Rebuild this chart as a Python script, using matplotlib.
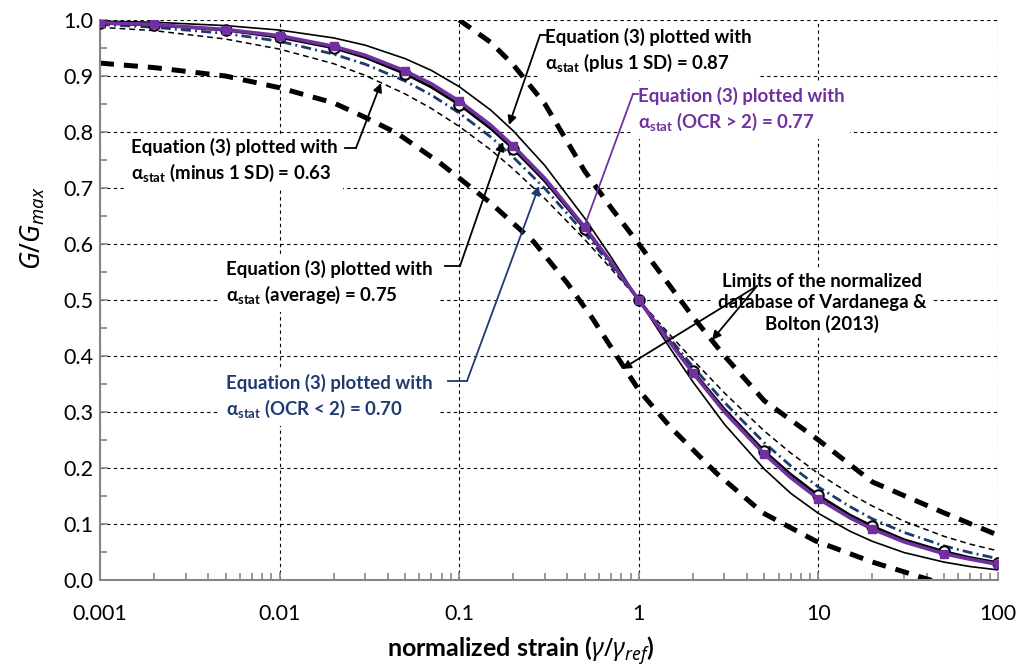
import matplotlib
matplotlib.use("Agg")
import matplotlib.pyplot as plt
from matplotlib.ticker import LogLocator, MultipleLocator, FixedLocator, FixedFormatter

plt.rcParams['font.family'] = ['Lato', 'Noto Sans', 'DejaVu Sans']
plt.rcParams['mathtext.fontset'] = 'custom'
plt.rcParams['mathtext.it'] = 'Noto Sans:italic:bold'
plt.rcParams['mathtext.rm'] = 'Noto Sans:bold'

# normalized strain values where the curves were read
strain = [0.001, 0.002, 0.005, 0.01, 0.02, 0.03, 0.05, 0.07, 0.1, 0.15, 0.2,
          0.3, 0.5, 0.7, 1, 1.5, 2, 3, 5, 7, 10, 15, 20, 30, 50, 70, 100]
# strains carrying a marker (0.001, 0.002, 0.005 ... 100)
marker_idx = [0, 1, 2, 3, 4, 6, 8, 10, 12, 14, 16, 18, 20, 22, 24, 26]

# G/Gmax at those strains
g_average = [.994, .991, .982, .969, .950, .933, .904, .880, .849, .806, .770,
             .712, .627, .567, .500, .425, .373, .305, .230, .189, .151, .116,
             .096, .072, .051, .040, .031]                          # alpha 0.75
g_ocr_hi = [.995, .992, .983, .972, .953, .937, .909, .886, .855, .812, .775,
            .717, .630, .568, .500, .423, .370, .300, .225, .183, .145, .111,
            .091, .068, .047, .037, .028]                           # alpha 0.77
g_ocr_lo = [.992, .987, .976, .962, .939, .921, .891, .866, .834, .791, .755,
            .699, .619, .562, .500, .430, .381, .317, .245, .204, .166, .131,
            .109, .085, .061, .049, .038]                           # alpha 0.70
g_plus_sd = [.998, .996, .990, .982, .968, .955, .931, .910, .881, .839, .802,
             .740, .646, .577, .500, .413, .354, .278, .198, .155, .119, .087,
             .069, .049, .032, .024, .018]                          # alpha 0.87
g_minus_sd = [.987, .981, .966, .948, .922, .901, .868, .842, .810, .768, .734,
              .681, .608, .556, .500, .437, .393, .334, .266, .227, .190, .154,
              .132, .105, .078, .064, .052]                         # alpha 0.63

# database limits (Vardanega & Bolton 2013)
upper_x = [0.1, 0.15, 0.2, 0.3, 0.5, 0.7, 1, 2, 3, 5, 10, 20, 50, 100]
upper_y = [1.0, 0.96, 0.92, 0.85, 0.73, 0.665, 0.60, 0.47, 0.40, 0.32,
           0.25, 0.175, 0.12, 0.08]
lower_x = [0.001, 0.002, 0.005, 0.01, 0.02, 0.03, 0.045, 0.078, 0.15, 0.26,
           0.4, 0.55, 1.0, 1.5, 2.7, 4.9, 9.6, 20, 42, 50]
lower_y = [0.923, 0.915, 0.900, 0.879, 0.852, 0.826, 0.798, 0.745, 0.673,
           0.604, 0.530, 0.468, 0.339, 0.273, 0.191, 0.120, 0.070, 0.032,
           0.0, -0.01]

x_ticks = [0.001, 0.01, 0.1, 1, 10, 100]
x_labels = ["0.001", "0.01", "0.1", "1", "10", "100"]

W, H = 1019, 668
fig = plt.figure(figsize=(W / 100, H / 100), dpi=100)
ax = fig.add_axes([100 / W, (H - 580) / H, 898 / W, 560 / H])


def px(xp, yp):
    # pixel position in the figure -> data coordinates
    return 10 ** ((xp - 100) / 179.6 - 3), (580 - yp) / 560


ax.set_xscale('log')
ax.set_xlim(0.001, 100)
ax.set_ylim(0, 1.0)

ax.plot(upper_x, upper_y, color='black', lw=3.6, ls=(0, (2.8, 2.0)), zorder=2)
ax.plot(lower_x, lower_y, color='black', lw=3.6, ls=(0, (2.8, 2.0)), zorder=2)
ax.plot(strain, g_minus_sd, color='black', lw=1.1, ls=(0, (3.8, 2.6)), zorder=2)
ax.plot(strain, g_plus_sd, color='black', lw=1.2, zorder=2)
ax.plot(strain, g_ocr_lo, color='#1f3a6e', lw=2.0,
        ls=(0, (3.6, 1.5, 0.7, 1.5)), zorder=3)
ax.plot(strain, g_average, color='black', lw=2.0, marker='o', ms=7.5,
        mfc='white', mec='black', mew=1.5, markevery=marker_idx, zorder=4)
ax.plot(strain, g_ocr_hi, color='#7030a0', lw=2.6, marker='s', ms=6,
        mfc='#7030a0', mec='#7030a0', markevery=marker_idx, zorder=5)

# grid and axes
ax.grid(True, which='major', color='black', lw=0.8, ls=(0, (3, 3)))
ax.set_axisbelow(True)
for s in ['top', 'right']:
    ax.spines[s].set_visible(False)
for s in ['left', 'bottom']:
    ax.spines[s].set_color('#868686')
    ax.spines[s].set_linewidth(1.5)

ax.xaxis.set_major_locator(FixedLocator(x_ticks))
ax.xaxis.set_major_formatter(FixedFormatter(x_labels))
ax.xaxis.set_minor_locator(LogLocator(base=10, subs=range(2, 10), numticks=20))
ax.xaxis.set_minor_formatter(FixedFormatter([]))
ax.yaxis.set_major_locator(MultipleLocator(0.1))
ax.yaxis.set_minor_locator(MultipleLocator(0.05))
ax.yaxis.set_major_formatter(plt.FuncFormatter(lambda v, p: f"{v:.1f}"))
ax.tick_params(which='both', direction='in', color='#868686', width=1.2)
ax.tick_params(which='major', length=6)
ax.tick_params(which='minor', length=5)
ax.tick_params(axis='x', which='major', pad=17, labelsize=15.5)
ax.tick_params(axis='y', which='major', pad=5, labelsize=15.5)

fig.text(33 / W, 1 - 228 / H, r"$G/G_{max}$", rotation=90, fontsize=19,
         ha='center', va='center')
fig.text(521 / W, 1 - 650 / H, r"normalized strain ($\gamma/\gamma_{ref}$)",
         fontsize=18, fontweight='bold', ha='center', va='center')

box = dict(facecolor='white', edgecolor='none', pad=4)
sub = r"$_{\mathregular{stat}}$"
label_kw = dict(fontsize=13.4, fontweight='bold', va='center', ha='left',
                linespacing=1.4, bbox=box, zorder=6)


def leader(points, color, arrow=True):
    xs = [px(*p)[0] for p in points]
    ys = [px(*p)[1] for p in points]
    ax.plot(xs[:-1], ys[:-1], color=color, lw=1.3, zorder=6, clip_on=False)
    if arrow:
        ax.annotate("", xy=(xs[-1], ys[-1]), xytext=(xs[-2], ys[-2]),
                    arrowprops=dict(arrowstyle='-|>', color=color, lw=1.3,
                                    shrinkA=0, shrinkB=0, mutation_scale=13),
                    zorder=6)
    else:
        ax.plot(xs[-2:], ys[-2:], color=color, lw=1.3, zorder=6)


ax.text(*px(131, 161), "Equation (3) plotted with\n\u03b1" + sub + " (minus 1 SD) = 0.63",
        color='black', **label_kw)
leader([(345, 148), (356, 148), (381, 83)], 'black')

ax.text(*px(545, 51), "Equation (3) plotted with\n\u03b1" + sub + " (plus 1 SD) = 0.87",
        color='black', **label_kw)
leader([(546, 35), (540, 35), (509, 125)], 'black')

ax.text(*px(638, 110), "Equation (3) plotted with\n\u03b1" + sub + " (OCR > 2) = 0.77",
        color='#7030a0', **label_kw)
leader([(638, 94), (633, 94), (585, 225)], '#7030a0', arrow=False)

ax.text(*px(226, 283), "Equation (3) plotted with\n\u03b1" + sub + " (average) = 0.75",
        color='black', **label_kw)
leader([(445, 266), (460, 266), (503, 142)], 'black')

ax.text(*px(226, 397), "Equation (3) plotted with\n\u03b1" + sub + " (OCR < 2) = 0.70",
        color='#1f3a6e', **label_kw)
leader([(448, 381), (467, 381), (539, 186)], '#1f3a6e')

ax.text(*px(822, 303), "Limits of the normalized\ndatabase of Vardanega &\nBolton (2013)",
        color='black', fontsize=13.4, fontweight='bold', va='center',
        ha='center', linespacing=1.25, bbox=box, zorder=6)
for tip in [(622, 369), (712, 340)]:
    ax.annotate("", xy=px(*tip), xytext=px(757, 286),
                arrowprops=dict(arrowstyle='-|>', color='black', lw=1.3,
                                shrinkA=0, shrinkB=0, mutation_scale=13),
                zorder=6)

fig.savefig("out.png", dpi=100)
